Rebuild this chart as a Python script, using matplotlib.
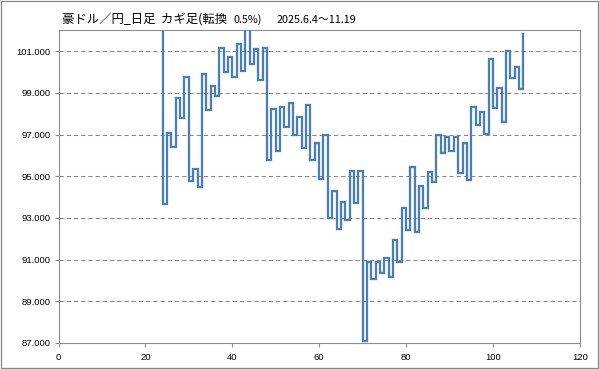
import matplotlib
matplotlib.use("Agg")
import matplotlib.pyplot as plt
from matplotlib.patches import Rectangle

plt.rcParams['lines.scale_dashes'] = False

# ---- data ----
start_x = 24
start_value = 103.0
kagi_values = [93.66, 97.08, 96.41, 98.76, 97.80, 99.77, 94.78, 95.36, 94.46, 99.88,
               98.17, 99.34, 98.83, 101.16, 100.01, 100.73, 99.75, 101.34, 100.06, 102.10,
               100.36, 101.08, 99.61, 101.13, 95.80, 98.23, 96.20, 98.33, 97.35, 98.52,
               96.97, 97.85, 96.35, 98.43, 95.79, 96.57, 94.86, 96.99, 93.02, 94.30,
               92.48, 93.77, 92.89, 95.26, 93.71, 95.26, 87.11, 90.88, 90.06, 90.88,
               90.38, 91.10, 90.16, 91.95, 90.88, 93.49, 92.43, 95.45, 92.32, 94.54,
               93.49, 95.21, 94.70, 97.00, 96.12, 96.88, 96.20, 96.88, 95.15, 96.57,
               94.81, 98.33, 97.47, 98.06, 97.03, 100.60, 98.28, 99.21, 97.59, 101.03,
               99.72, 100.25, 99.19, 101.82]
y_ticks = [87, 89, 91, 93, 95, 97, 99, 101]
y_tick_labels = ["87.000", "89.000", "91.000", "93.000", "95.000", "97.000", "99.000", "101.000"]
x_ticks = [0, 20, 40, 60, 80, 100, 120]
title_main = "豪ドル／円_日足  カギ足(転換"
title_pct = "0.5%)"
title_dates = "2025.6.4～11.19"

# ---- build kagi path ----
px = [start_x]
py = [start_value]
n = len(kagi_values)
for i, v in enumerate(kagi_values):
    x = start_x + i
    px.append(x)
    py.append(v)
    if i < n - 1:
        px.append(x + 1)
        py.append(v)

W, H = 599, 369
fig = plt.figure(figsize=(W / 100, H / 100), dpi=100)
fig.patch.set_facecolor("white")

left, right, top, bottom = 58.5, 579.8, 30.3, 343.0
ax = fig.add_axes([left / W, 1 - bottom / H, (right - left) / W, (bottom - top) / H])

ax.plot(px, py, color="#4a7ebb", lw=1.65, solid_joinstyle="miter", zorder=3)

ax.set_xlim(0, 120)
ax.set_ylim(87, 102)
ax.set_xticks(x_ticks)
ax.set_yticks(y_ticks)
ax.set_yticklabels(y_tick_labels)

for yv in y_ticks[1:]:
    ax.axhline(yv, color="#868686", lw=0.75, ls=(0, (3.0, 2.2)), zorder=1)

for s in ax.spines.values():
    s.set_color("#8c8c8c")
    s.set_linewidth(0.8)

tick_font = {"family": ["Liberation Sans", "DejaVu Sans"], "size": 6.8}
ax.tick_params(axis="both", direction="out", length=3, width=0.8, color="#8c8c8c",
               labelcolor="#000000", pad=2.5)
ax.tick_params(axis="x", pad=4)
for lab in ax.get_xticklabels() + ax.get_yticklabels():
    lab.set_fontfamily(tick_font["family"])
    lab.set_fontsize(tick_font["size"])

# titles
cjk = ["Noto Sans CJK JP", "DejaVu Sans"]
fig.text(62 / W, 1 - 23 / H, title_main, family=cjk, fontsize=8.9, va="baseline", ha="left")
fig.text(234 / W, 1 - 23 / H, title_pct, family=cjk, fontsize=7.8, va="baseline", ha="left")
fig.text(277 / W, 1 - 23 / H, title_dates, family=cjk, fontsize=7.8, va="baseline", ha="left")

# outer chart border
fig.patches.append(Rectangle((0.6 / W, 0.6 / H), 1 - 1.6 / W, 1 - 1.6 / H,
                             transform=fig.transFigure, fill=False,
                             edgecolor="#868686", lw=0.9))

fig.savefig("out.png", dpi=100, facecolor="white")
